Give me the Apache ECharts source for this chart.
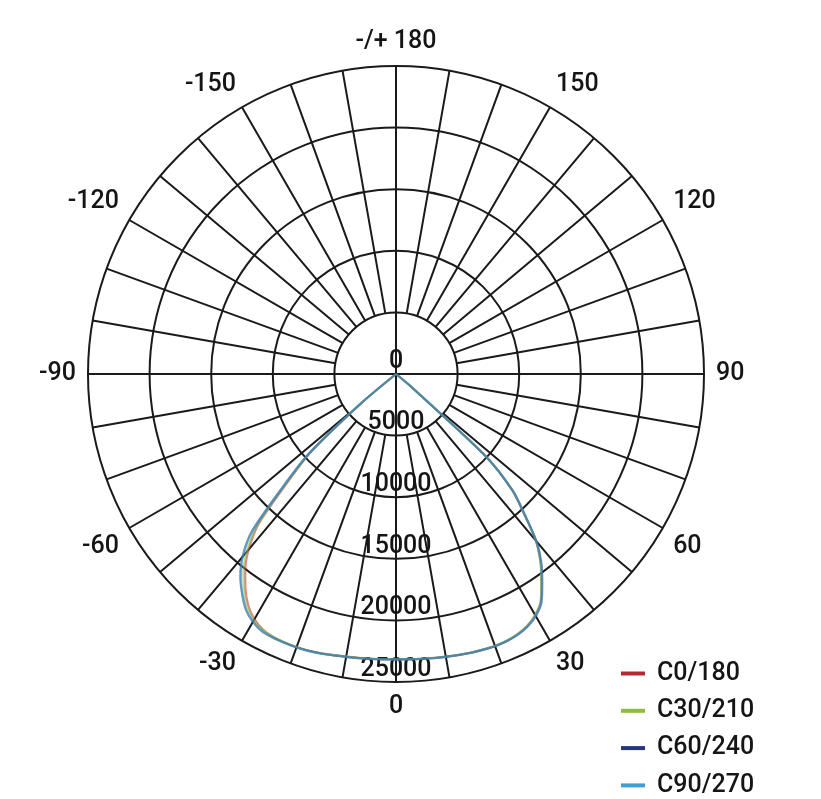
<!DOCTYPE html>
<html><head><meta charset="utf-8">
<script src="https://cdn.jsdelivr.net/npm/echarts@6/dist/echarts.min.js"></script>
<style>html,body{margin:0;padding:0;background:#fff}#c{width:821px;height:799px}</style>
</head><body><div id="c"></div>
<script>
// Gamma angles (deg), 0 = straight down, negative = left half
const angles = [-90,-80,-70,-60,-55,-52.5,-50,-47.5,-45,-42.5,-40,-37.5,-35,-32.5,-30,-27.5,-25,-22.5,-20,-17.5,-15,-12.5,-10,-7.5,-5,-2.5,0,2.5,5,7.5,10,12.5,15,17.5,20,22.5,25,27.5,30,32.5,35,37.5,40,42.5,45,47.5,50,52.5,55,60,70,80,90];
const seriesNames = ['C0/180','C30/210','C60/240','C90/270'];
const seriesColors = ['#b8282e','#8cbc3c','#27357a','#3aa2d2'];
const c0_180  = [0,0,0,0,0,0,3500,9400,12500,16500,18600,20100,21300,22300,22980,23380,23540,23580,23580,23550,23470,23370,23290,23240,23200,23170,23150,23170,23200,23250,23300,23360,23420,23460,23490,23450,23320,23060,22600,21880,20580,19280,17660,15400,13360,9820,1550,0,0,0,0,0,0];
const c30_210 = [0,0,0,0,0,0,3600,9450,12700,16700,18850,20350,21500,22450,23080,23420,23560,23580,23580,23550,23470,23370,23280,23240,23200,23170,23150,23170,23200,23240,23290,23350,23410,23450,23480,23440,23300,23040,22580,21850,20550,19250,17650,15380,13350,9800,1500,0,0,0,0,0,0];
const c60_240 = [0,0,0,0,0,0,3900,9700,13100,17300,19400,20750,21780,22680,23230,23550,23630,23640,23620,23570,23490,23390,23320,23270,23220,23190,23170,23190,23220,23270,23320,23370,23430,23480,23510,23480,23360,23120,22700,21980,20700,19400,17750,15450,13400,9850,1700,0,0,0,0,0,0];
const c90_270 = [0,0,0,0,0,0,4060,9740,12990,17210,19320,20700,21750,22650,23210,23540,23620,23620,23620,23580,23500,23380,23300,23260,23210,23180,23160,23180,23210,23260,23310,23360,23420,23460,23500,23460,23340,23090,22650,21920,20620,19320,17700,15420,13390,9900,1620,0,0,0,0,0,0];
const radiusMax = 25000;
const radiusStep = 5000;
const angleLabelStep = 30;

const seriesValues = [c0_180, c30_210, c60_240, c90_270];
const CENTER = [396, 374];
const R = 308;
const FONT = 'Roboto';
const FS = 25;
const INK = '#151515';
const GRID = {color: '#1a1a1a', width: 2};

function toAxisAngle(a) { return (a + 360) % 360; }

const chart = echarts.init(document.getElementById('c'), null, {renderer: 'canvas'});
chart.setOption({
  animation: false,
  backgroundColor: '#fff',
  polar: [
    {center: CENTER, radius: [0, R]},
    {center: CENTER, radius: [R * radiusStep / radiusMax, R]}
  ],
  angleAxis: [
    {
      polarIndex: 0, type: 'value', min: 0, max: 360, interval: 90,
      startAngle: 270, clockwise: false,
      axisLine: {show: false}, axisTick: {show: false}, axisLabel: {show: false},
      splitLine: {show: true, lineStyle: GRID}
    },
    {
      polarIndex: 1, type: 'value', min: 0, max: 360, interval: 10,
      startAngle: 270, clockwise: false,
      axisLine: {show: false}, axisTick: {show: false},
      axisLabel: {
        show: true, margin: 12, fontFamily: FONT, fontSize: FS, fontWeight: 500, color: INK,
        formatter: function (v) {
          v = Math.round(v);
          if (v % angleLabelStep !== 0) return '';
          if (v === 180) return '-/+ 180';
          if (v > 180) return String(v - 360);
          return String(v);
        }
      },
      splitLine: {show: true, lineStyle: GRID}
    }
  ],
  radiusAxis: [
    {
      polarIndex: 0, type: 'value', min: 0, max: radiusMax, interval: radiusStep,
      axisLine: {show: false}, axisTick: {show: false},
      axisLabel: {
        show: true, margin: 0, align: 'center', verticalAlign: 'bottom',
        fontFamily: FONT, fontSize: FS, fontWeight: 500, color: INK,
        formatter: function (v) { return String(v); }
      },
      splitLine: {show: true, lineStyle: GRID}
    },
    {
      polarIndex: 1, type: 'value', min: 0, max: 1, show: false,
      axisLine: {show: false}, axisTick: {show: false}, axisLabel: {show: false}, splitLine: {show: false}
    }
  ],
  legend: {
    orient: 'vertical', left: 621, top: 661, padding: 0, itemGap: 12.3,
    icon: 'rect', itemWidth: 24, itemHeight: 4,
    itemStyle: {opacity: 1},
    textStyle: {fontFamily: FONT, fontSize: FS, fontWeight: 500, color: INK, lineHeight: 25, padding: [0, 0, 0, 7]},
    data: seriesNames
  },
  series: seriesNames.map(function (name, i) {
    return {
      name: name, type: 'line', coordinateSystem: 'polar', polarIndex: 0,
      symbol: 'none', smooth: 0.25, z: 5 + i,
      color: seriesColors[i],
      lineStyle: {width: 2.2, color: seriesColors[i], opacity: 0.55},
      data: angles.map(function (a, k) { return [seriesValues[i][k], toAxisAngle(a)]; })
    };
  })
});
</script>
</body></html>
